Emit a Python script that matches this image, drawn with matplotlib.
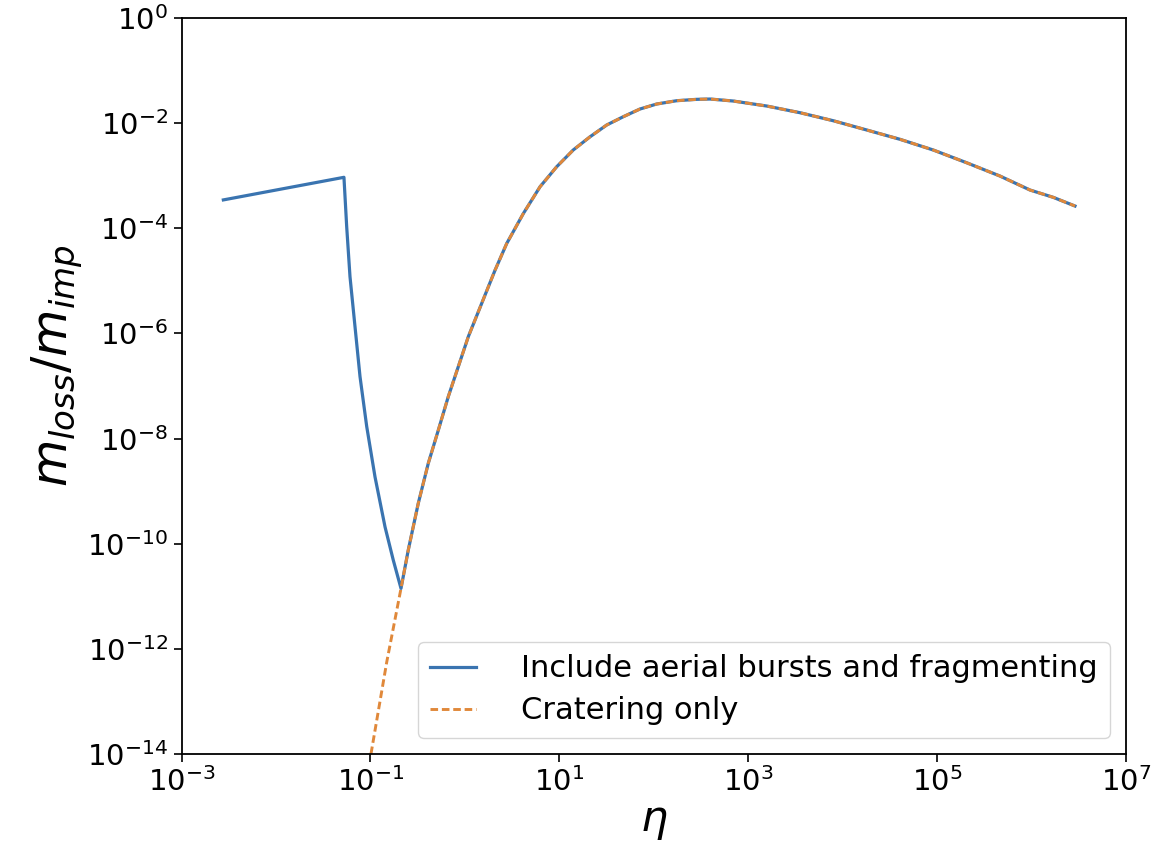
import matplotlib
matplotlib.use("Agg")
import matplotlib.pyplot as plt
import numpy as np

# log10(eta) and log10(m_loss/m_imp)
# --- shared cratering curve (from the minimum upward) ---
crater_logx = [-0.676, -0.599, -0.493, -0.387, -0.281, -0.175, -0.069, 0.037, 0.178, 0.319,
               0.443, 0.619, 0.796, 0.972, 1.148, 1.325, 1.502, 1.678, 1.854, 2.031,
               2.243, 2.455, 2.596, 2.842, 3.196, 3.548, 3.901, 4.255, 4.607, 4.960,
               5.313, 5.666, 5.984, 6.230, 6.460]
crater_logy = [-10.85, -10.12, -9.23, -8.47, -7.84, -7.20, -6.63, -6.06, -5.43, -4.80,
               -4.29, -3.72, -3.21, -2.83, -2.51, -2.26, -2.035, -1.877, -1.731, -1.636,
               -1.573, -1.547, -1.541, -1.579, -1.674, -1.801, -1.954, -2.130, -2.307, -2.511,
               -2.753, -3.006, -3.272, -3.411, -3.576]

# --- aerial bursts / fragmenting branch (before the minimum) ---
burst_logx = [-2.557, -1.280, -1.251, -1.216, -1.163, -1.110, -1.039, -0.951, -0.845, -0.758]
burst_logy = [-3.46, -3.03, -3.97, -4.92, -5.87, -6.82, -7.77, -8.73, -9.68, -10.31]

# --- cratering-only branch below the minimum ---
lowcrater_logx = [-0.994, -0.827]
lowcrater_logy = [-14.0, -12.25]

x_ticks = [1e-3, 1e-1, 1e1, 1e3, 1e5, 1e7]
y_ticks = [1e-14, 1e-12, 1e-10, 1e-8, 1e-6, 1e-4, 1e-2, 1e0]

label_blue = "Include aerial bursts and fragmenting"
label_orange = "Cratering only"

blue_lx = np.array(burst_logx + crater_logx)
blue_ly = np.array(burst_logy + crater_logy)
orange_lx = np.array(lowcrater_logx + crater_logx)
orange_ly = np.array(lowcrater_logy + crater_logy)

fig = plt.figure(figsize=(11.74, 8.66), dpi=100)
ax = fig.add_axes([0.1546, 0.1293, 0.8045, 0.8499])

ax.plot(10 ** blue_lx, 10 ** blue_ly, color="#3a74b0", lw=2.3, label=label_blue)
ax.plot(10 ** orange_lx, 10 ** orange_ly, color="#e0883a", lw=2.1, ls="--",
        dashes=(2.6, 1.3), label=label_orange)

ax.set_xscale("log")
ax.set_yscale("log")
ax.set_xlim(1e-3, 1e7)
ax.set_ylim(1e-14, 1e0)
ax.set_xticks(x_ticks)
ax.set_yticks(y_ticks)
ax.minorticks_off()
ax.tick_params(axis="both", which="major", labelsize=21, length=6, width=1.2)
for s in ax.spines.values():
    s.set_linewidth(1.3)

ax.set_xlabel(r"$\eta$", fontsize=31, labelpad=2)
ax.set_ylabel(r"$m_{loss}/m_{imp}$", fontsize=35)
ax.yaxis.set_label_coords(-0.102, 0.528)

ax.legend(loc="lower right", fontsize=22, handlelength=1.5, borderpad=0.42,
          labelspacing=0.42, handletextpad=1.45, borderaxespad=0.52)

fig.savefig("out.png", dpi=100)
